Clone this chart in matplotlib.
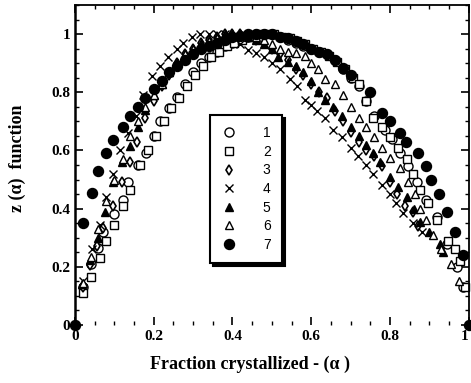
import matplotlib
matplotlib.use("Agg")
import matplotlib.pyplot as plt
from matplotlib.ticker import MultipleLocator, FixedLocator

plt.rcParams['font.family'] = ['Liberation Serif', 'DejaVu Serif']
plt.rcParams['font.weight'] = 'bold'

# ---- data ----
a1 = [0.02, 0.04, 0.058, 0.072, 0.10, 0.122, 0.135, 0.16, 0.18, 0.20, 0.216, 0.24, 0.26, 0.28, 0.30, 0.32,
      0.34, 0.36, 0.38, 0.40, 0.42, 0.44, 0.46, 0.48, 0.50, 0.52, 0.54, 0.56, 0.58, 0.60, 0.62, 0.64, 0.66,
      0.68, 0.70, 0.72, 0.74, 0.76, 0.787, 0.805, 0.825, 0.845, 0.868, 0.89, 0.918, 0.945, 0.97, 0.985]
z1 = [0.13, 0.21, 0.265, 0.32, 0.38, 0.43, 0.49, 0.55, 0.59, 0.65, 0.70, 0.745, 0.785, 0.83, 0.87, 0.90,
      0.92, 0.94, 0.96, 0.97, 0.98, 0.99, 1.0, 1.0, 1.0, 0.99, 0.98, 0.97, 0.96, 0.95, 0.94, 0.93, 0.91,
      0.88, 0.85, 0.82, 0.77, 0.72, 0.67, 0.64, 0.59, 0.545, 0.49, 0.43, 0.37, 0.28, 0.20, 0.13]

a2 = [0.02, 0.04, 0.063, 0.08, 0.10, 0.122, 0.14, 0.165, 0.185, 0.205, 0.225, 0.245, 0.265, 0.285, 0.305,
      0.325, 0.345, 0.365, 0.385, 0.405, 0.425, 0.445, 0.465, 0.485, 0.505, 0.525, 0.545, 0.565, 0.585,
      0.605, 0.625, 0.645, 0.665, 0.685, 0.705, 0.72, 0.74, 0.757, 0.78, 0.80, 0.82, 0.843, 0.858, 0.876,
      0.896, 0.92, 0.947, 0.965, 0.977, 0.99]
z2 = [0.11, 0.165, 0.23, 0.29, 0.345, 0.41, 0.465, 0.55, 0.60, 0.65, 0.70, 0.745, 0.78, 0.82, 0.86,
      0.89, 0.92, 0.94, 0.96, 0.97, 0.98, 0.99, 1.0, 1.0, 1.0, 0.99, 0.985, 0.975, 0.965,
      0.95, 0.94, 0.925, 0.905, 0.88, 0.85, 0.83, 0.77, 0.71, 0.68, 0.645, 0.61, 0.57, 0.52, 0.465,
      0.42, 0.36, 0.29, 0.26, 0.22, 0.13]

a3 = [0.02, 0.038, 0.055, 0.072, 0.097, 0.12, 0.14, 0.157, 0.178, 0.20, 0.22, 0.24, 0.26, 0.28, 0.30,
      0.32, 0.34, 0.36, 0.38, 0.40, 0.42, 0.44, 0.46, 0.48, 0.50, 0.52, 0.54, 0.56, 0.58, 0.60, 0.62,
      0.64, 0.66, 0.68, 0.70, 0.72, 0.74, 0.76, 0.78, 0.80, 0.817, 0.838, 0.858, 0.87]
z3 = [0.13, 0.205, 0.27, 0.335, 0.41, 0.49, 0.56, 0.63, 0.71, 0.77, 0.82, 0.86, 0.90, 0.93, 0.95,
      0.97, 0.98, 0.99, 1.0, 1.0, 1.0, 0.99, 0.98, 0.97, 0.95, 0.93, 0.91, 0.88, 0.86, 0.83, 0.80,
      0.78, 0.735, 0.70, 0.665, 0.63, 0.60, 0.58, 0.545, 0.49, 0.45, 0.41, 0.39, 0.34]

a4 = [0.02, 0.043, 0.063, 0.08, 0.097, 0.115, 0.135, 0.155, 0.173, 0.195, 0.215, 0.237, 0.26, 0.275,
      0.297, 0.317, 0.34, 0.36, 0.38, 0.40, 0.42, 0.44, 0.46, 0.48, 0.50, 0.52, 0.545, 0.563, 0.584,
      0.60, 0.614, 0.635, 0.655, 0.678, 0.70, 0.718, 0.74, 0.757, 0.78, 0.80, 0.815, 0.833, 0.858, 0.88]
z4 = [0.15, 0.26, 0.345, 0.44, 0.52, 0.60, 0.66, 0.72, 0.79, 0.855, 0.89, 0.92, 0.95, 0.97,
      0.99, 1.0, 1.0, 1.0, 1.0, 0.99, 0.965, 0.945, 0.935, 0.92, 0.90, 0.88, 0.845, 0.82, 0.775,
      0.755, 0.735, 0.71, 0.67, 0.645, 0.61, 0.58, 0.55, 0.52, 0.48, 0.45, 0.42, 0.385, 0.35, 0.32]

a5 = [0.018, 0.038, 0.058, 0.076, 0.097, 0.12, 0.14, 0.16, 0.178, 0.20, 0.22, 0.24, 0.26, 0.28, 0.30,
      0.32, 0.34, 0.36, 0.38, 0.40, 0.42, 0.44, 0.46, 0.48, 0.50, 0.515, 0.54, 0.56, 0.58, 0.60, 0.617,
      0.635, 0.655, 0.678, 0.70, 0.72, 0.74, 0.757, 0.774, 0.80, 0.82, 0.843, 0.86, 0.876, 0.90, 0.926,
      0.934]
z5 = [0.14, 0.225, 0.30, 0.39, 0.49, 0.56, 0.615, 0.68, 0.74, 0.79, 0.83, 0.87, 0.90, 0.93, 0.95,
      0.97, 0.98, 0.99, 1.0, 1.0, 1.0, 0.99, 0.98, 0.965, 0.95, 0.92, 0.905, 0.89, 0.87, 0.84, 0.80,
      0.775, 0.75, 0.72, 0.68, 0.65, 0.62, 0.59, 0.56, 0.51, 0.475, 0.44, 0.40, 0.355, 0.32, 0.28,
      0.25]

a6 = [0.02, 0.04, 0.058, 0.08, 0.10, 0.122, 0.14, 0.16, 0.178, 0.20, 0.22, 0.24, 0.26, 0.28, 0.30,
      0.32, 0.34, 0.36, 0.38, 0.40, 0.42, 0.44, 0.46, 0.48, 0.50, 0.52, 0.54, 0.56, 0.585, 0.60, 0.617,
      0.635, 0.66, 0.68, 0.70, 0.72, 0.74, 0.76, 0.78, 0.80, 0.825, 0.845, 0.863, 0.876, 0.89, 0.91,
      0.93, 0.955, 0.975]
z6 = [0.145, 0.235, 0.33, 0.425, 0.50, 0.57, 0.65, 0.70, 0.75, 0.79, 0.83, 0.87, 0.90, 0.93, 0.95,
      0.96, 0.975, 0.985, 0.99, 1.0, 1.0, 1.0, 0.99, 0.98, 0.965, 0.95, 0.94, 0.935, 0.925, 0.90, 0.88,
      0.845, 0.83, 0.79, 0.75, 0.71, 0.68, 0.645, 0.61, 0.575, 0.54, 0.49, 0.45, 0.40, 0.36, 0.31,
      0.26, 0.21, 0.15]

a7 = [0.0, 0.02, 0.043, 0.058, 0.08, 0.097, 0.122, 0.14, 0.16, 0.178, 0.20, 0.22, 0.24, 0.26, 0.28,
      0.30, 0.32, 0.34, 0.36, 0.38, 0.40, 0.42, 0.44, 0.46, 0.48, 0.50, 0.52, 0.54, 0.56, 0.58, 0.60,
      0.62, 0.64, 0.66, 0.68, 0.70, 0.75, 0.78, 0.80, 0.825, 0.84, 0.87, 0.89, 0.905, 0.925, 0.944,
      0.965, 0.985, 1.0]
z7 = [0.0, 0.35, 0.455, 0.53, 0.59, 0.635, 0.68, 0.72, 0.75, 0.78, 0.81, 0.84, 0.87, 0.89, 0.91,
      0.93, 0.95, 0.96, 0.97, 0.98, 0.99, 0.995, 1.0, 1.0, 1.0, 1.0, 0.99, 0.985, 0.975, 0.965, 0.95,
      0.94, 0.93, 0.91, 0.885, 0.86, 0.80, 0.73, 0.70, 0.66, 0.63, 0.59, 0.545, 0.50, 0.45, 0.39,
      0.32, 0.24, 0.0]

labels = ['1', '2', '3', '4', '5', '6', '7']
x_ticks = [0, 0.2, 0.4, 0.6, 0.8, 1.0]
x_ticklabels = ['0', '0.2', '0.4', '0.6', '0.8', '1']
y_ticks = [0, 0.2, 0.4, 0.6, 0.8, 1.0]
y_ticklabels = ['0', '0.2', '0.4', '0.6', '0.8', '1']

series = [
    (a1, z1, dict(marker='o', ms=6.5, mfc='white', mec='black', mew=1.0)),
    (a2, z2, dict(marker='s', ms=5.2, mfc='white', mec='black', mew=1.0)),
    (a3, z3, dict(marker='d', ms=5.2, mfc='white', mec='black', mew=1.2)),
    (a4, z4, dict(marker='x', ms=5.2, mfc='black', mec='black', mew=1.0)),
    (a5, z5, dict(marker='^', ms=5.5, mfc='black', mec='black', mew=1.0)),
    (a6, z6, dict(marker='^', ms=5.5, mfc='white', mec='black', mew=1.0)),
    (a7, z7, dict(marker='o', ms=7.2, mfc='black', mec='black', mew=1.0)),
]

fig = plt.figure(figsize=(4.71, 3.83), dpi=100)
ax = fig.add_axes([0.159, 0.1514, 0.8365, 0.8355])

handles = []
for (a, z, st), lab in zip(series, labels):
    h, = ax.plot(a, z, linestyle='none', clip_on=False, label=lab, **st)
    handles.append(h)

ax.set_xlim(0, 1)
ax.set_ylim(0, 1.1)
ax.xaxis.set_major_locator(FixedLocator(x_ticks))
ax.set_xticklabels(x_ticklabels)
ax.yaxis.set_major_locator(FixedLocator(y_ticks))
ax.set_yticklabels(y_ticklabels)
ax.xaxis.set_minor_locator(MultipleLocator(0.05))
ax.yaxis.set_minor_locator(MultipleLocator(0.05))
ax.tick_params(which='both', direction='in', top=True, right=True, labelsize=11)
ax.tick_params(which='major', length=6, width=1.2)
ax.tick_params(which='minor', length=3, width=1.0)
for lbl in ax.get_xticklabels() + ax.get_yticklabels():
    lbl.set_fontweight('bold')
ax.get_xticklabels()[-1].set_horizontalalignment('right')
ax.spines['bottom'].set_visible(False)
ax.spines['left'].set_linewidth(1.8)
ax.spines['top'].set_linewidth(1.3)
ax.spines['right'].set_linewidth(1.3)

ax.set_xlabel('Fraction crystallized - (α )', fontsize=13, fontweight='bold')
ax.xaxis.set_label_coords(0.445, -0.095)
ax.set_ylabel('z (α)  function', fontsize=13, fontweight='bold')
ax.yaxis.set_label_coords(-0.124, 0.52)

leg = ax.legend(handles=handles, loc='upper left', bbox_to_anchor=(0.343, 0.656),
                frameon=True, fancybox=False, shadow={'color': 'black', 'alpha': 1.0},
                handlelength=1.2, handletextpad=1.8, labelspacing=0.33, borderpad=0.8,
                prop={'family': 'Liberation Sans', 'size': 10, 'weight': 'normal'},
                borderaxespad=0)
leg.get_frame().set_edgecolor('black')
leg.get_frame().set_linewidth(1.5)

fig.savefig('out.png', dpi=100)
